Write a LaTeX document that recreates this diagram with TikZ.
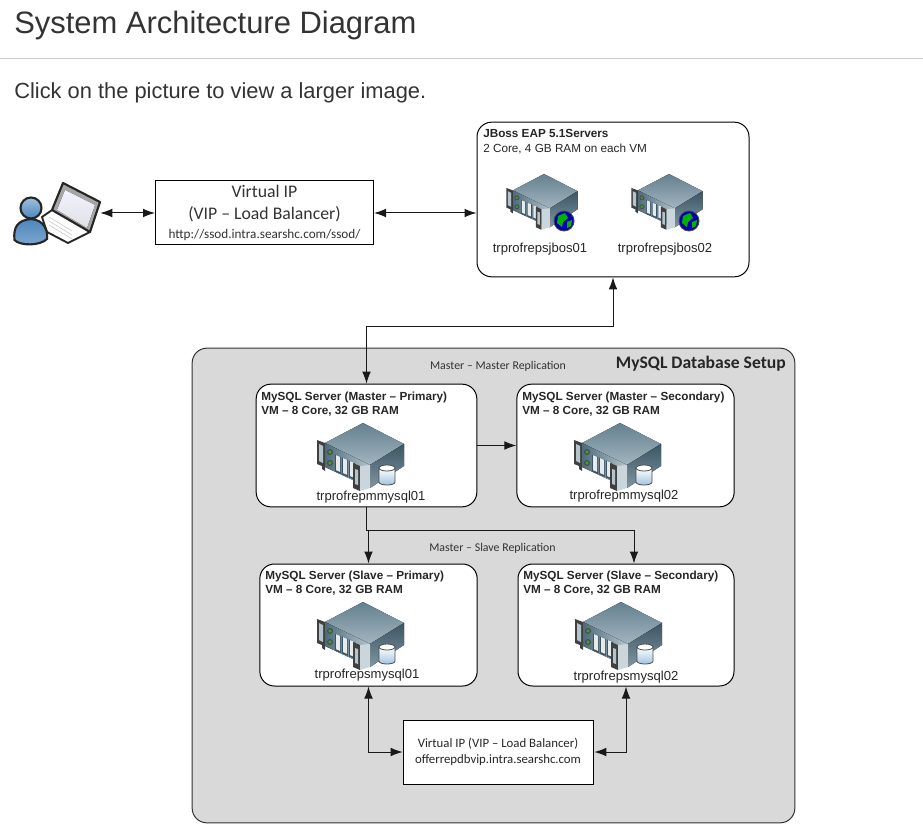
\documentclass[tikz,border=0pt]{standalone}
\usepackage{fontspec}
\setmainfont{Liberation Sans}
\newfontfamily\calibrifont{Carlito}
\usetikzlibrary{arrows.meta}
\definecolor{panelgray}{HTML}{D9D9D9}
\definecolor{inkgray}{HTML}{333333}
\definecolor{srvtopA}{HTML}{64808F}
\definecolor{srvtopB}{HTML}{A3B5BF}
\definecolor{srvsideA}{HTML}{3C5564}
\definecolor{srvsideB}{HTML}{7F95A1}
\definecolor{srvfrontA}{HTML}{4F6B7B}
\definecolor{srvfrontB}{HTML}{B4C4CC}
\definecolor{userA}{HTML}{9CC0E0}
\definecolor{userB}{HTML}{4F86BA}
\tikzset{
    boxrect/.style={draw=black,fill=white,line width=0.75pt,inner sep=0pt},
    vmbox/.style={boxrect,rounded corners=11pt,minimum width=#1},
    headtext/.style={anchor=north west,align=left,inner sep=0pt,font=\fontsize{8.8}{10.6}\selectfont\bfseries,text=black!85},
    hosttext/.style={inner sep=0pt,font=\fontsize{9.8}{11}\selectfont,text=black!85},
    notetext/.style={inner sep=0pt,font=\calibrifont\fontsize{8.9}{10}\selectfont,text=black!80},
    link/.style={line width=0.75pt,black!90},
    pics/serverbox/.style={code={
        % rear flange
        \fill[black!75] (-46,17) -- (-38,20) -- (-38,48) -- (-41,46) -- (-41,43) -- (-46,41) -- cycle;
        \fill[srvfrontB] (-44,21) -- (-40,23) -- (-40,40) -- (-44,38) -- cycle;
        % faces
        \fill[top color=srvtopA,bottom color=srvtopB] (0,0) -- (41,21) -- (7,42) -- (-38,20) -- cycle;
        \fill[top color=srvsideA,bottom color=srvsideB] (41,21) -- (41,43) -- (7,65) -- (7,42) -- cycle;
        \fill[left color=srvfrontA,right color=srvfrontB] (-38,20) -- (7,42) -- (7,65) -- (-38,44) -- cycle;
        % drive slots
        \foreach \sx in {-27,-20,-13} {
            \fill[srvsideA] (\sx-0.8,32+0.42*\sx+11) -- ++(6,2.5) -- ++(0,17) -- ++(-6,-2.5) -- cycle;
            \fill[srvfrontB!35!white] (\sx,32+0.42*\sx+11.5) -- ++(4,1.7) -- ++(0,15) -- ++(-4,-1.7) -- cycle;
        }
        \fill[black!70] (-33,29) circle (3);
        \fill[green!55!black!80!white] (-33,29) circle (1.8);
        \fill[black!70] (-33,40) circle (3);
        \fill[green!55!black!80!white] (-33,40) circle (1.8);
        % front flange
        \fill[black!75] (-10,40) -- (-3,43) -- (-3,68) -- (-10,65) -- cycle;
        \fill[srvfrontB] (-8,46) -- (-5,47) -- (-5,62) -- (-8,61) -- cycle;
        \fill[srvfrontB!70!white] (-3,43) -- (7,42) -- (7,65) -- (-3,68) -- cycle;
    }},
    pics/globebadge/.style={code={
        \fill[black!70] (0,0) circle (10.5);
        \fill[blue!70!black] (0,0) circle (9.5);
        \fill[green!70!black] (-6,-5) -- (1,-8) -- (4,-3) -- (-1,1) -- (-2,6) -- (-7,2) -- cycle;
        \fill[green!70!black] (3,1) -- (8,-1) -- (7,5) -- (3,7) -- cycle;
    }},
    pics/diskbadge/.style={code={
        \draw[black!70,line width=0.6pt,top color=white,bottom color=userA] (-8,-7) -- (-8,7) .. controls (-8,11) and (8,11) .. (8,7) -- (8,-7) -- cycle;
        \draw[black!70,line width=0.6pt,fill=white] (0,-7) ellipse (8 and 3);
    }},
    pics/clientuser/.style={code={
        % laptop
        \fill[white,draw=black!85,line width=1.4pt,line join=round] (42,217) -- (55,208) -- (90,232) -- (68,243) -- (47,232) -- cycle;
        \foreach \ky in {0,4,8} {
            \draw[black!20,line width=0.5pt] (49,217+\ky) -- (72,231+\ky);
        }
        \fill[black!35,draw=black!85,line width=1.6pt,line join=round] (63,183) -- (100,202) -- (90,232) -- (52,210) -- cycle;
        \fill[top color=blue!5!white,bottom color=blue!15!black!12] (65,190) -- (95,205) -- (87,228) -- (57,210) -- cycle;
        % person
        \draw[black!85,line width=1.6pt,top color=userB,bottom color=userA!60!userB] (14.5,240) .. controls (13,227) and (18,220) .. (31,219) .. controls (44,220) and (48,230) .. (47,239) .. controls (40,246) and (20,246) .. (14.5,240) -- cycle;
        \draw[black!85,line width=1.6pt,top color=userA,bottom color=userB] (31,208) circle (10.5);
    }}
}
\begin{document}
\begin{tikzpicture}[x=0.75pt,y=-0.75pt,>={Latex[length=9pt,width=6.5pt]}]
    \useasboundingbox (0,0) rectangle (923,830);
    % page heading
    \node [anchor=west,inner sep=0pt,text=inkgray,font=\fontsize{23.2}{27}\selectfont] (title) at (14,26) {System Architecture Diagram};
    \coordinate (ruleL) at (0,59);
    \coordinate (ruleR) at (923,59);
    \draw [black!20,line width=0.75pt] (ruleL) -- (ruleR);
    \node [anchor=west,inner sep=0pt,text=inkgray,font=\fontsize{16.4}{20}\selectfont] (hint) at (14,93) {Click on the picture to view a larger image.};
    % front end
    \node [minimum width=64.5pt,minimum height=40pt,inner sep=0pt] (client) at (57,213) {};
    \pic at (0,0) {clientuser};
    \node [boxrect,minimum width=163.5pt,minimum height=48pt] (vip) at (264.5,213) {};
    \node [inner sep=0pt,align=center,font=\calibrifont\fontsize{13.3}{16.5}\selectfont,text=black!80] (viptext) at (264.5,204) {Virtual IP\\(VIP – Load Balancer)};
    \node [inner sep=0pt,font=\calibrifont\fontsize{9.9}{11}\selectfont,text=black!80] (vipurl) at (264.5,235) {http://ssod.intra.searshc.com/ssod/};
    % app servers
    \node [vmbox=204pt,minimum height=116pt] (jboss) at (613,199.5) {};
    \node [anchor=north west,align=left,inner sep=0pt,font=\fontsize{8.8}{10.6}\selectfont,text=black!85] (jbosshead) at (483,129.5) {\textbf{JBoss EAP 5.1Servers}\\2 Core, 4 GB RAM on each VM};
    \pic [scale=0.82] at (544,174) {serverbox};
    \pic at (564,221) {globebadge};
    \pic [scale=0.82] at (669,174) {serverbox};
    \pic at (689,221) {globebadge};
    \node [hosttext] (jbos01) at (540,249) {trprofrepsjbos01};
    \node [hosttext] (jbos02) at (665,249) {trprofrepsjbos02};
    % database panel
    \node [draw=black!80,fill=panelgray,rounded corners=11pt,line width=0.75pt,minimum width=452pt,minimum height=356pt,inner sep=0pt] (panel) at (493.5,585.5) {};
    \node [anchor=east,inner sep=0pt,font=\calibrifont\bfseries\fontsize{13.2}{15}\selectfont,text=black!85] (paneltitle) at (786,364) {MySQL Database Setup};
    \node [notetext] (mmnote) at (498,366) {Master – Master Replication};
    \node [notetext] (msnote) at (492.5,548.5) {Master – Slave Replication};
    \node [vmbox=165.5pt,minimum height=92pt] (mprimary) at (366.5,445.5) {};
    \node [vmbox=163pt,minimum height=92pt] (msecondary) at (625.5,445.5) {};
    \node [vmbox=163pt,minimum height=91.5pt] (sprimary) at (368.5,625) {};
    \node [vmbox=162pt,minimum height=91.5pt] (ssecondary) at (626,625) {};
    \node [boxrect,minimum width=143pt,minimum height=48pt] (dbvip) at (498.5,752) {};
    \node [headtext] (mprimaryhead) at (261,391.5) {MySQL Server (Master – Primary)\\VM – 8 Core, 32 GB RAM};
    \node [headtext] (msecondaryhead) at (522,391.5) {MySQL Server (Master – Secondary)\\VM – 8 Core, 32 GB RAM};
    \node [headtext] (sprimaryhead) at (265,570.5) {MySQL Server (Slave – Primary)\\VM – 8 Core, 32 GB RAM};
    \node [headtext] (ssecondaryhead) at (523,570.5) {MySQL Server (Slave – Secondary)\\VM – 8 Core, 32 GB RAM};
    \foreach \sx/\sy in {363/423,620/423,363/602,621/602} {
        \pic at (\sx,\sy) {serverbox};
        \pic at (\sx+24,\sy+52) {diskbadge};
    }
    \node [hosttext] (mmysql01) at (371,497) {trprofrepmmysql01};
    \node [hosttext] (mmysql02) at (624,496) {trprofrepmmysql02};
    \node [hosttext] (smysql01) at (367,675) {trprofrepsmysql01};
    \node [hosttext] (smysql02) at (626,677) {trprofrepsmysql02};
    \node [align=center,inner sep=0pt,font=\calibrifont\fontsize{9.6}{12.5}\selectfont,text=black!85] (dbviptext) at (498,752) {Virtual IP (VIP – Load Balancer)\\offerrepdbvip.intra.searshc.com};
    % connectors
    \draw [link,<->] (client.east) -- (vip.west);
    \draw [link,<->] (vip.east) -- (vip.east -| jboss.west);
    \coordinate (appbend) at (613,326);
    \draw [link,<->] (jboss.south) -- (appbend) -| (mprimary.north);
    \draw [link,->] (mprimary.east |- msecondary.west) -- (msecondary.west);
    \coordinate (splitbend) at (368.5,530);
    \draw [link] (mprimary.south) |- (splitbend);
    \draw [link,->] (splitbend) -- (sprimary.north);
    \draw [link,->] (splitbend) -| ([xshift=6pt]ssecondary.north);
    \draw [link,<->] (sprimary.south) |- (dbvip.west);
    \draw [link,<->] (ssecondary.south) |- (dbvip.east);
\end{tikzpicture}
\end{document}
